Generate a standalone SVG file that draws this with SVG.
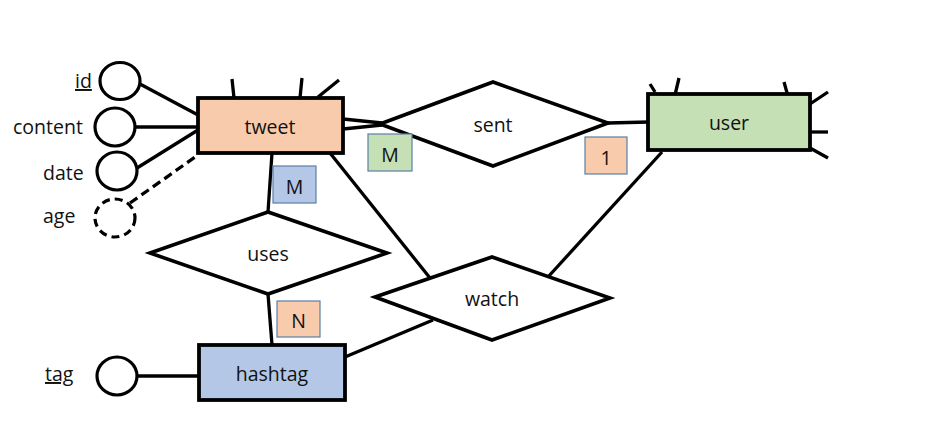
<svg xmlns="http://www.w3.org/2000/svg" width="950" height="435" viewBox="0 0 950 435">
<style>
.ln{stroke:#000;stroke-width:3.3;fill:none;stroke-linecap:butt}
.dash{stroke:#000;stroke-width:3.3;fill:none;stroke-dasharray:9 5}
.ent{stroke:#000;stroke-width:3.8}
.rel{fill:#fff;stroke:#000;stroke-width:3.6;stroke-linejoin:miter}
.attr{fill:#fff;stroke:#000;stroke-width:3.2}
.card{stroke:#5b7fa8;stroke-width:1.2}
text{font-family:"Open Sans","Liberation Sans",sans-serif;font-size:19.5px;fill:#111}
.c{text-anchor:middle;dominant-baseline:central}
</style>
<rect width="950" height="435" fill="#fff"/>
<g id="connectors">
<line class="ln" x1="140" y1="84" x2="198" y2="115"/>
<line class="ln" x1="135" y1="127" x2="198" y2="127"/>
<line class="ln" x1="137" y1="168" x2="198" y2="130"/>
<line class="dash" x1="130" y1="203" x2="198" y2="155"/>
<line class="ln" x1="232" y1="79" x2="234" y2="98"/>
<line class="ln" x1="302" y1="78" x2="300" y2="98"/>
<line class="ln" x1="339" y1="80" x2="318" y2="97"/>
<line class="ln" x1="343" y1="119" x2="382" y2="123"/>
<line class="ln" x1="343" y1="129" x2="382" y2="125"/>
<line class="ln" x1="608" y1="123" x2="649" y2="122"/>
<line class="ln" x1="650" y1="84" x2="655" y2="92"/>
<line class="ln" x1="679" y1="78" x2="675" y2="95"/>
<line class="ln" x1="784" y1="82" x2="791" y2="107"/>
<line class="ln" x1="810" y1="104" x2="828" y2="92"/>
<line class="ln" x1="810" y1="132" x2="828" y2="132"/>
<line class="ln" x1="810" y1="148" x2="828" y2="158"/>
<line class="ln" x1="662" y1="152" x2="548" y2="277"/>
<line class="ln" x1="330" y1="153" x2="430" y2="278"/>
<line class="ln" x1="433" y1="320" x2="345" y2="357"/>
<line class="ln" x1="272" y1="153" x2="268" y2="212"/>
<line class="ln" x1="268" y1="294" x2="272" y2="345"/>
<line class="ln" x1="137" y1="376" x2="199" y2="376"/>
</g>
<g id="attr-id"><ellipse class="attr" cx="120" cy="81" rx="20" ry="18.5"/><text x="75" y="88" text-decoration="underline">id</text></g>
<g id="attr-content"><ellipse class="attr" cx="115" cy="127" rx="20" ry="19"/><text x="13" y="134">content</text></g>
<g id="attr-date"><ellipse class="attr" cx="117" cy="171" rx="20" ry="19"/><text x="43" y="180">date</text></g>
<g id="attr-age"><ellipse class="attr" cx="115" cy="218" rx="20" ry="19" stroke-dasharray="8 5"/><text x="43" y="223">age</text></g>
<g id="attr-tag"><ellipse class="attr" cx="117" cy="376" rx="20" ry="19"/><text x="45" y="381" text-decoration="underline">tag</text></g>
<g id="tweet"><rect class="ent" x="198" y="98" width="145" height="55" fill="#f8cbad"/><text class="c" x="270" y="126">tweet</text></g>
<g id="user"><rect class="ent" x="648" y="94" width="162" height="56" fill="#c5e0b4"/><text class="c" x="729" y="122">user</text></g>
<g id="hashtag"><rect class="ent" x="199" y="345" width="146" height="55" fill="#b4c7e7"/><text class="c" x="272" y="373">hashtag</text></g>
<g id="sent"><polygon class="rel" points="380,124 493,82 608,123 493,166"/><text class="c" x="493" y="124">sent</text></g>
<g id="uses"><polygon class="rel" points="150,253 268,212 387,253 268,294"/><text class="c" x="268" y="253">uses</text></g>
<g id="watch"><polygon class="rel" points="375,297 492,257 610,298 492,340"/><text class="c" x="492" y="298">watch</text></g>
<g id="card-sent-tweet"><rect class="card" x="368" y="134" width="44" height="37" fill="#c5e0b4"/><text class="c" x="390" y="154">M</text></g>
<g id="card-sent-user"><rect class="card" x="585" y="137" width="42" height="37" fill="#f8cbad"/><text class="c" x="606" y="157">1</text></g>
<g id="card-uses-tweet"><rect class="card" x="273" y="166" width="43" height="37" fill="#b4c7e7"/><text class="c" x="294.5" y="186">M</text></g>
<g id="card-uses-hashtag"><rect class="card" x="277" y="301" width="43" height="36" fill="#f8cbad"/><text class="c" x="298.5" y="320">N</text></g>
</svg>
